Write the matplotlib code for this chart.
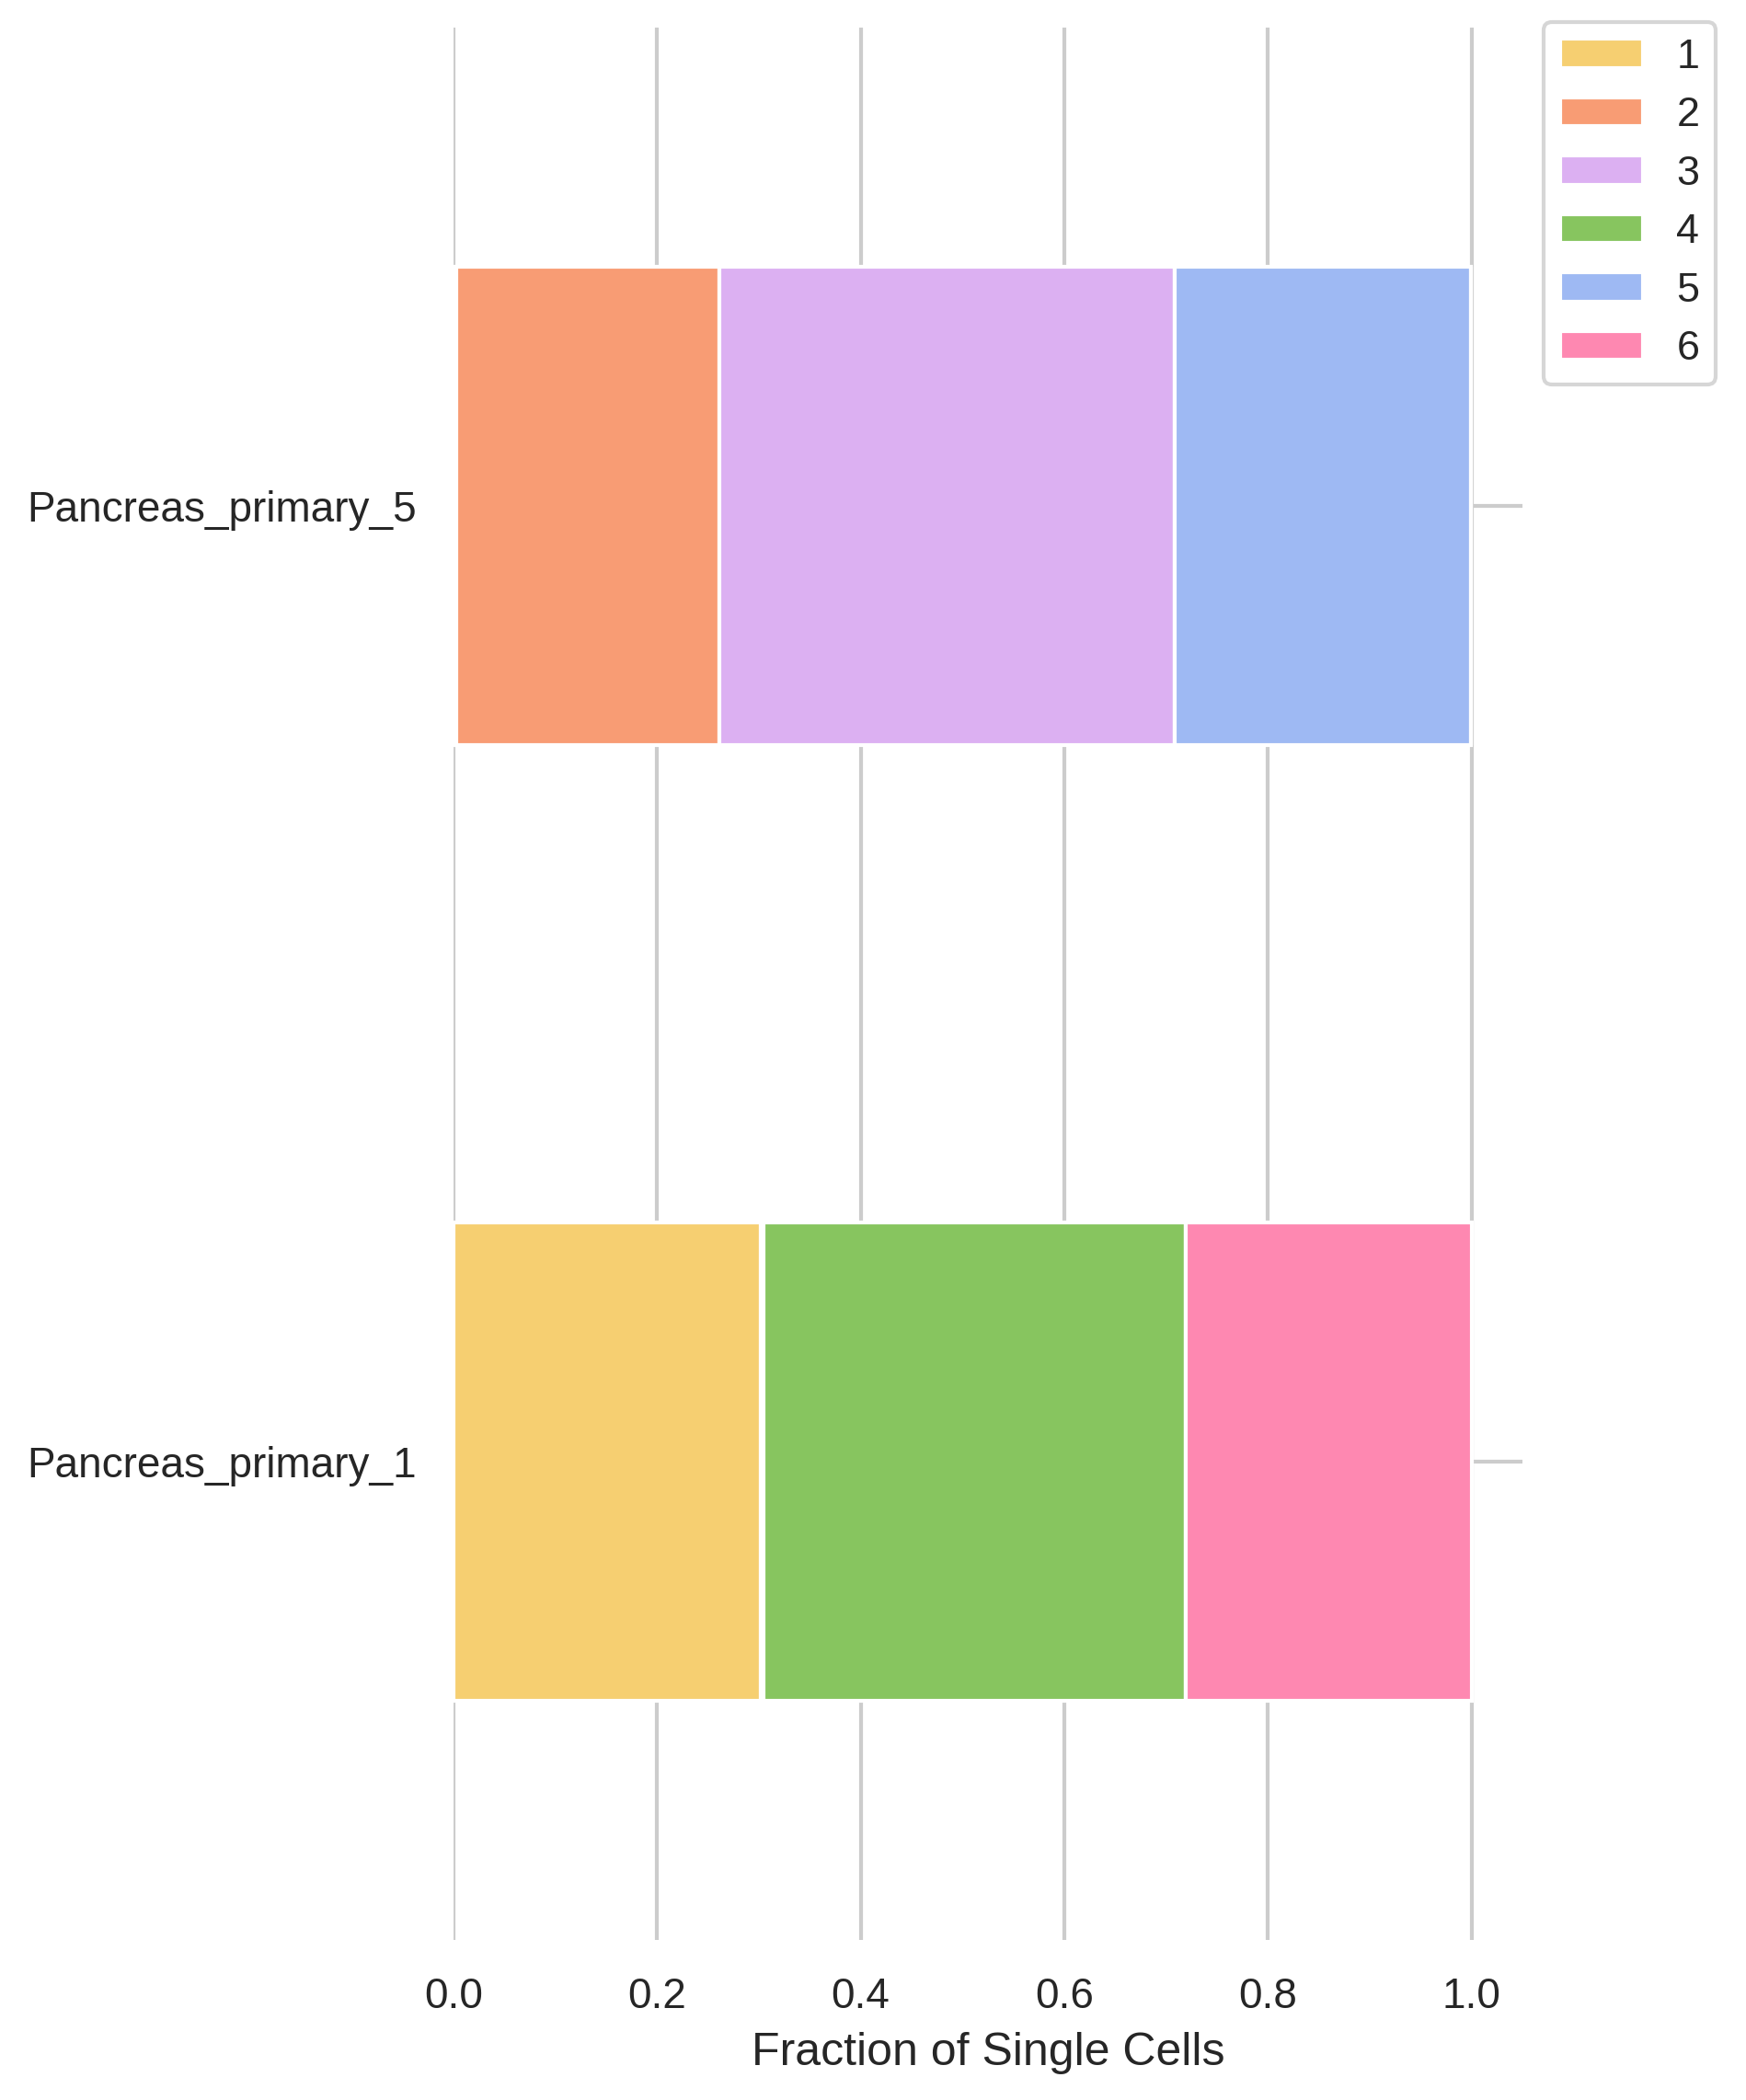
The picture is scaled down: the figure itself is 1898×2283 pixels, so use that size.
import numpy as np
import matplotlib
matplotlib.use("Agg")
import matplotlib.pyplot as plt
import seaborn as sns

samples = ["Pancreas_primary_1", "Pancreas_primary_5"]
clusters = ["1", "2", "3", "4", "5", "6"]
# fraction of single cells per cluster, rows follow `samples`
frac_1 = [0.302, 0.003]
frac_2 = [0.0025, 0.258]
frac_3 = [0.0, 0.4473]
frac_4 = [0.4148, 0.0]
frac_5 = [0.0, 0.2914]
frac_6 = [0.2807, 0.0]
colors = ["#F6CF71", "#F89C74", "#DCB0F2", "#87C55F", "#9EB9F3", "#FE88B1"]

sns.set_theme(style="whitegrid", context="notebook")
plt.rcParams['font.family'] = ['Liberation Sans', 'DejaVu Sans']

fig = plt.figure(figsize=(1898 / 300, 2283 / 300), dpi=300)
ax = fig.add_axes([0.2597, 0.0762, 0.8720 - 0.2597, 0.9869 - 0.0762])

series = [frac_1, frac_2, frac_3, frac_4, frac_5, frac_6]
ypos = np.arange(len(samples))
left = np.zeros(len(samples))
for lab, vals, col in zip(clusters, series, colors):
    vals = np.array(vals)
    ax.barh(ypos, vals, left=left, height=0.5, color=col, edgecolor="white",
            linewidth=1.0, label=lab)
    left = left + vals

ax.set_yticks(ypos)
ax.set_yticklabels(samples)
ax.set_ylim(-0.5, 1.5)
ax.set_xlim(0, 1.05)
ax.set_xticks([0.0, 0.2, 0.4, 0.6, 0.8, 1.0])
ax.set_xlabel("Fraction of Single Cells")
sns.despine(ax=ax, left=True, bottom=True)

ax.legend(loc="upper left", bbox_to_anchor=(1.02, 1.003), borderaxespad=0,
          fontsize=10.8)

fig.savefig("out.png", dpi=300)
